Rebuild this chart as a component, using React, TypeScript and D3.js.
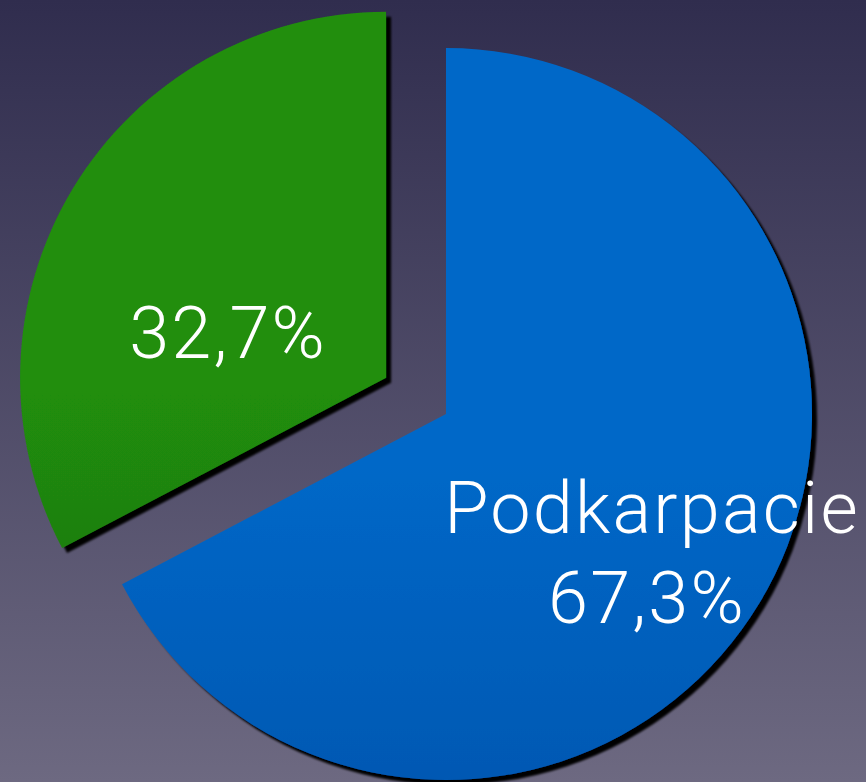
import React from "react";
import * as d3 from "d3";

const categories = ["Podkarpacie", ""];
const values = [67.3, 32.7];
const valueLabels = ["67,3%", "32,7%"];

const W = 866;
const H = 782;

export default function App() {
  const cx = 446;
  const cy = 414;
  const r = 366;
  const explode = 70;

  const pie = d3.pie<number>().sort(null).startAngle(0).endAngle(2 * Math.PI);
  const arcs = pie(values);
  const arc = d3.arc<d3.PieArcDatum<number>>().innerRadius(0).outerRadius(r);

  const fills = ["url(#gBlue)", "url(#gGreen)"];
  const offsets = arcs.map((a, i) => {
    if (i === 0) return [0, 0];
    const mid = (a.startAngle + a.endAngle) / 2;
    return [Math.sin(mid) * explode, -Math.cos(mid) * explode];
  });

  const textStyle = {
    fill: "#ffffff",
    fontFamily: "Roboto, 'Liberation Sans', sans-serif",
    fontWeight: 300,
    fontSize: 72,
    letterSpacing: "2.2px",
  } as React.CSSProperties;

  return (
    <svg
      width={W}
      height={H}
      style={{ position: "fixed", left: 0, top: 0, display: "block" }}
    >
      <defs>
        <linearGradient id="bg" x1="0" y1="0" x2="0" y2="1">
          <stop offset="0%" stopColor="#302d4e" />
          <stop offset="100%" stopColor="#6d6981" />
        </linearGradient>
        <linearGradient id="gBlue" gradientUnits="userSpaceOnUse" x1="0" y1={cy - r} x2="0" y2={cy + r}>
          <stop offset="0%" stopColor="#0068c8" />
          <stop offset="50%" stopColor="#0556b0" />
          <stop offset="100%" stopColor="#0a4392" />
        </linearGradient>
        <linearGradient id="gGreen" gradientUnits="userSpaceOnUse" x1="0" y1={cy - r - 35} x2="0" y2={cy - 35 + r * 0.5}>
          <stop offset="0%" stopColor="#208e0e" />
          <stop offset="100%" stopColor="#1b5c12" />
        </linearGradient>
        <filter id="shadow" x="-10%" y="-10%" width="130%" height="130%">
          <feDropShadow dx="5" dy="5" stdDeviation="1.2" floodColor="#000" floodOpacity="1" />
        </filter>
      </defs>
      <rect x={0} y={0} width={W} height={H} fill="url(#bg)" />
      {arcs.map((a, i) => (
        <g key={i} transform={`translate(${cx + offsets[i][0]},${cy + offsets[i][1]})`}>
          <path d={arc(a) || ""} fill={fills[i]} filter="url(#shadow)" />
        </g>
      ))}
      <g transform={`translate(${cx + offsets[0][0]},${cy + offsets[0][1]})`}>
        <text textAnchor="middle" style={textStyle}>
          <tspan x={206} y={119}>{categories[0]}</tspan>
          <tspan x={201} y={209}>{valueLabels[0]}</tspan>
        </text>
      </g>
      <g transform={`translate(${cx + offsets[1][0]},${cy + offsets[1][1]})`}>
        <text textAnchor="middle" style={textStyle}>
          <tspan x={-158} y={-20}>{valueLabels[1]}</tspan>
        </text>
      </g>
    </svg>
  );
}
